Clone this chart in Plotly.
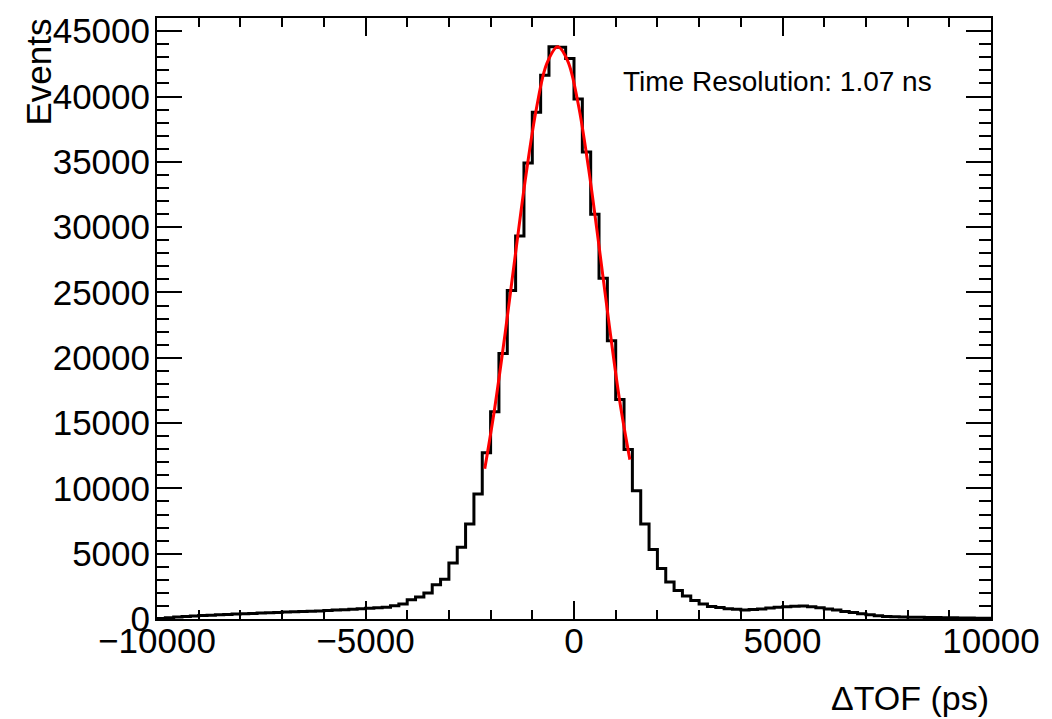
import numpy as np
import plotly.graph_objects as go

# ---- data ----
bin_edges = np.arange(-10000, 10001, 200)  # 100 bins of 200 ps

counts = [
    40, 90, 150, 190, 230, 260, 290, 320, 350, 380,
    410, 430, 450, 480, 500, 530, 550, 570, 590, 620,
    650, 680, 710, 740, 780, 820, 860, 900, 1010, 1150,
    1470, 1680, 2000, 2620, 3050, 4280, 5500, 7280, 9560, 12720,
    15870, 20330, 25150, 29330, 34910, 38790, 41630, 43800, 43780, 42900,
    39800, 35750, 30980, 26090, 21300, 16800, 12980, 9810, 7280, 5320,
    3860, 2840, 2190, 1760, 1410, 1150, 960, 880, 790, 740,
    690, 730, 770, 840, 890, 930, 980, 990, 940, 860,
    760, 680, 580, 500, 400, 330, 250, 200, 180, 150,
    140, 130, 120, 110, 100, 90, 80, 70, 60, 50,
]

fit_x = [-2140, -1900, -1650, -1400, -1150, -900, -650, -390, -150, 100,
         350, 600, 850, 1100, 1340]
fit_y = [11500, 16180, 21900, 28050, 34030, 39100, 42530, 43800, 42710, 39440,
         34480, 28550, 22380, 16610, 12200]

x_ticks = [-10000, -5000, 0, 5000, 10000]
x_tick_labels = ["\u221210000", "\u22125000", "0", "5000", "10000"]
y_ticks = [0, 5000, 10000, 15000, 20000, 25000, 30000, 35000, 40000, 45000]
y_tick_labels = [str(v) for v in y_ticks]

annot_text = "Time Resolution: 1.07 ns"
x_title = "\u0394TOF (ps)"
y_title = "Events"

# ---- figure ----
FONT = "Liberation Sans, Arial, Helvetica, sans-serif"

step_x = list(bin_edges)
step_y = list(counts) + [counts[-1]]

fig = go.Figure()
fig.add_trace(go.Scatter(
    x=step_x, y=step_y, mode="lines", line_shape="hv",
    line=dict(color="black", width=3), hoverinfo="skip", showlegend=False,
))
fig.add_trace(go.Scatter(
    x=fit_x, y=fit_y, mode="lines", line_shape="spline",
    line=dict(color="#ff0000", width=3), hoverinfo="skip", showlegend=False,
))

ymax = 46010

fig.update_layout(
    width=1052, height=719,
    margin=dict(l=157, r=54, t=14, b=100),
    paper_bgcolor="white", plot_bgcolor="white",
    font=dict(family=FONT, color="black", size=34),
    xaxis=dict(
        range=[-10000, 10000], tickvals=x_ticks, ticktext=x_tick_labels,
        ticks="inside", ticklen=18, tickwidth=1.5, tickcolor="black",
        showline=True, linewidth=2, linecolor="black", mirror="allticks",
        showgrid=False, zeroline=False,
        minor=dict(dtick=1000, tick0=0, ticks="inside", ticklen=9,
                   tickwidth=1.5, tickcolor="black", showgrid=False),
        tickfont=dict(size=35), ticklabelstandoff=-10,
    ),
    yaxis=dict(
        range=[0, ymax], tickvals=y_ticks, ticktext=y_tick_labels,
        ticks="inside", ticklen=25, tickwidth=1.5, tickcolor="black",
        showline=True, linewidth=2, linecolor="black", mirror="allticks",
        showgrid=False, zeroline=False,
        minor=dict(dtick=1000, tick0=0, ticks="inside", ticklen=12,
                   tickwidth=1.5, tickcolor="black", showgrid=False),
        tickfont=dict(size=35), ticklabelstandoff=-2,
    ),
    annotations=[
        dict(text=annot_text, xref="paper", yref="paper",
             x=(625 - 157) / 841, y=(619 - 78) / 605,
             xanchor="left", yanchor="middle", showarrow=False,
             font=dict(size=28, family=FONT)),
        dict(text=x_title, xref="paper", yref="paper",
             x=1.0, y=(619 - 699) / 605, xanchor="right", yanchor="middle",
             showarrow=False, font=dict(size=34, family=FONT)),
        dict(text=y_title, xref="paper", yref="paper", textangle=-90,
             x=(38 - 157) / 841, y=(619 - 12) / 605, xanchor="center",
             yanchor="top", showarrow=False, font=dict(size=35, family=FONT)),
    ],
)

fig.write_html("out.html")
